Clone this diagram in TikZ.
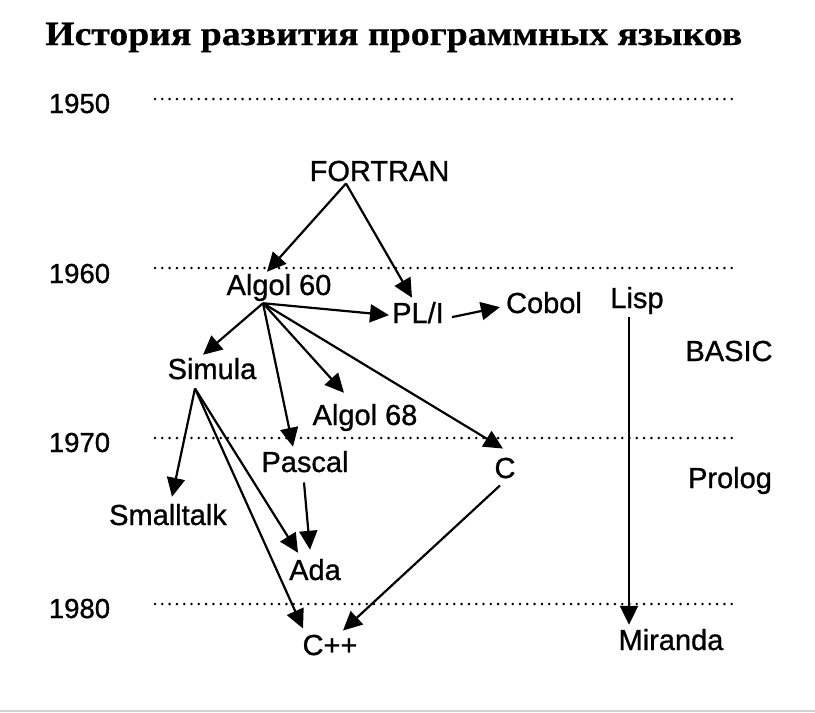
\documentclass[tikz,border=0pt]{standalone}
\usepackage{fontspec}
\setmainfont{Liberation Sans}[FakeBold=0.9]
\newfontfamily\titlefont{Liberation Serif}[FakeBold=0.6]
\usetikzlibrary{arrows.meta}
\begin{document}
\begin{tikzpicture}[x=1pt,y=-1pt,
  lbl/.style={anchor=base,inner sep=0pt,font=\fontsize{29}{34}\selectfont},
  yr/.style={anchor=base,inner sep=0pt,font=\fontsize{27.5}{32}\selectfont},
  dots/.style={line width=2.8pt,line cap=round,dash pattern=on 0pt off 7.3pt},
  arr/.style={line width=2.2pt,-{Triangle[length=19pt,width=18pt]}}]
\useasboundingbox[fill=white] (0,0) rectangle (815,713);
\draw[gray!35,line width=1.5pt] (0,711) -- (815,711);
% title
\node[anchor=base west,inner sep=0pt,xscale=1.11,font=\titlefont\bfseries\fontsize{34}{40}\selectfont] (title) at (45,45) {История развития программных языков};
% years
\node[yr] (y1950) at (79.5,113) {1950};
\node[yr] (y1960) at (79.5,283) {1960};
\node[yr] (y1970) at (79.5,452) {1970};
\node[yr] (y1980) at (79.5,618) {1980};
\coordinate (l50a) at (155,99);  \coordinate (l50b) at (733,99);
\coordinate (l60a) at (155,268); \coordinate (l60b) at (733,268);
\coordinate (l70a) at (155,438); \coordinate (l70b) at (733,438);
\coordinate (l80a) at (155,604); \coordinate (l80b) at (733,604);
\draw[dots] (l50a) -- (l50b);
\draw[dots] (l60a) -- (l60b);
\draw[dots] (l70a) -- (l70b);
\draw[dots] (l80a) -- (l80b);
% languages
\node[lbl] (fortran) at (379.5,181) {FORTRAN};
\node[lbl] (a60) at (279,295) {Algol 60};
\node[lbl] (pl1) at (418,323) {PL/I};
\node[lbl] (cobol) at (544,313) {Cobol};
\node[lbl] (lisp) at (637,308) {Lisp};
\node[lbl] (basic) at (729,361) {BASIC};
\node[lbl] (simula) at (212,379) {Simula};
\node[lbl] (a68) at (365,425) {Algol 68};
\node[lbl] (pascal) at (305,472) {Pascal};
\node[lbl] (c) at (505,478) {C};
\node[lbl] (prolog) at (730,488) {Prolog};
\node[lbl] (smalltalk) at (168,525) {Smalltalk};
\node[lbl] (ada) at (315,580) {Ada};
\node[lbl] (cpp) at (330,655) {C++};
\node[lbl] (miranda) at (671,650) {Miranda};
% arrows
\draw[arr] ([shift={(-33.5,2)}]fortran.south) -- ([shift={(-12,-2)}]a60.north);
\draw[arr] ([shift={(-33.5,2)}]fortran.south) -- ([shift={(-6,-4)}]pl1.north);
\draw[arr] ([shift={(-16,2)}]a60.south) -- ([shift={(-3,2.5)}]pl1.west);
\draw[arr] ([shift={(8,4.5)}]pl1.east) -- ([shift={(-6,4.5)}]cobol.west);
\draw[arr] ([shift={(-16,2)}]a60.south) -- ([shift={(-9,-3)}]simula.north);
\draw[arr] ([shift={(-16,2)}]a60.south) -- ([shift={(-12,-4)}]pascal.north);
\draw[arr] ([shift={(-16,2)}]a60.south) -- ([shift={(-21,-11)}]a68.north);
\draw[arr] ([shift={(-16,2)}]a60.south) -- ([shift={(-2,-9)}]c.north);
\draw[arr] ([shift={(-17,9)}]simula.south) -- ([shift={(4,-7)}]smalltalk.north);
\draw[arr] ([shift={(-17,9)}]simula.south) -- ([shift={(-17,-6)}]ada.north);
\draw[arr] ([shift={(-17,9)}]simula.south) -- ([shift={(-27,-6)}]cpp.north);
\draw[arr] ([shift={(-1,10)}]pascal.south) -- ([shift={(-5,-9)}]ada.north);
\draw[arr] ([shift={(-5,7)}]c.south) -- ([shift={(13,-4)}]cpp.north);
\draw[arr] ([shift={(-8,3)}]lisp.south) -- ([shift={(-42,-4)}]miranda.north);
\end{tikzpicture}
\end{document}
